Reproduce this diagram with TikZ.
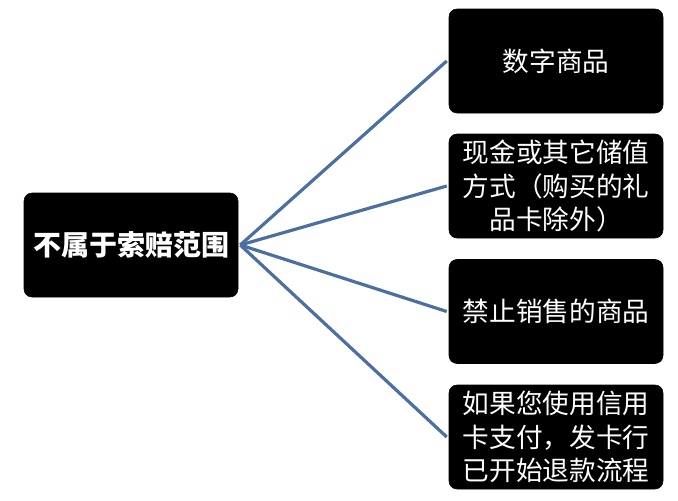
\documentclass[tikz,border=0pt]{standalone}
\usepackage{fontspec}
\newfontfamily\cjk{Noto Sans CJK SC}
\definecolor{linkblue}{HTML}{4A6FA0}
\begin{document}
\begin{tikzpicture}[x=0.75pt,y=-0.75pt,
  box/.style={fill=black,draw=black,rounded corners=6pt,text=white,align=center,
    minimum width=214*0.75pt,minimum height=104*0.75pt,inner sep=2pt,
    font=\cjk\fontsize{20}{25}\selectfont},
  link/.style={draw=linkblue,line width=2.4pt}]
\useasboundingbox (0,0) rectangle (678,500);
\node[box,font=\cjk\bfseries\fontsize{21}{25}\selectfont] (root) at (131,245) {不属于索赔范围};
\node[box] (a) at (556,61) {数字商品};
\node[box] (b) at (556,186) {现金或其它储值\\方式（购买的礼\\品卡除外）};
\node[box] (c) at (556,311.5) {禁止销售的商品};
\node[box] (d) at (556,437) {如果您使用信用\\卡支付，发卡行\\已开始退款流程};
\coordinate (s) at ([xshift=1.5pt]root.east);
\foreach \t in {a,b,c,d}
  \draw[link] (s) -- ([xshift=-1.5pt]\t.west);
\end{tikzpicture}
\end{document}
